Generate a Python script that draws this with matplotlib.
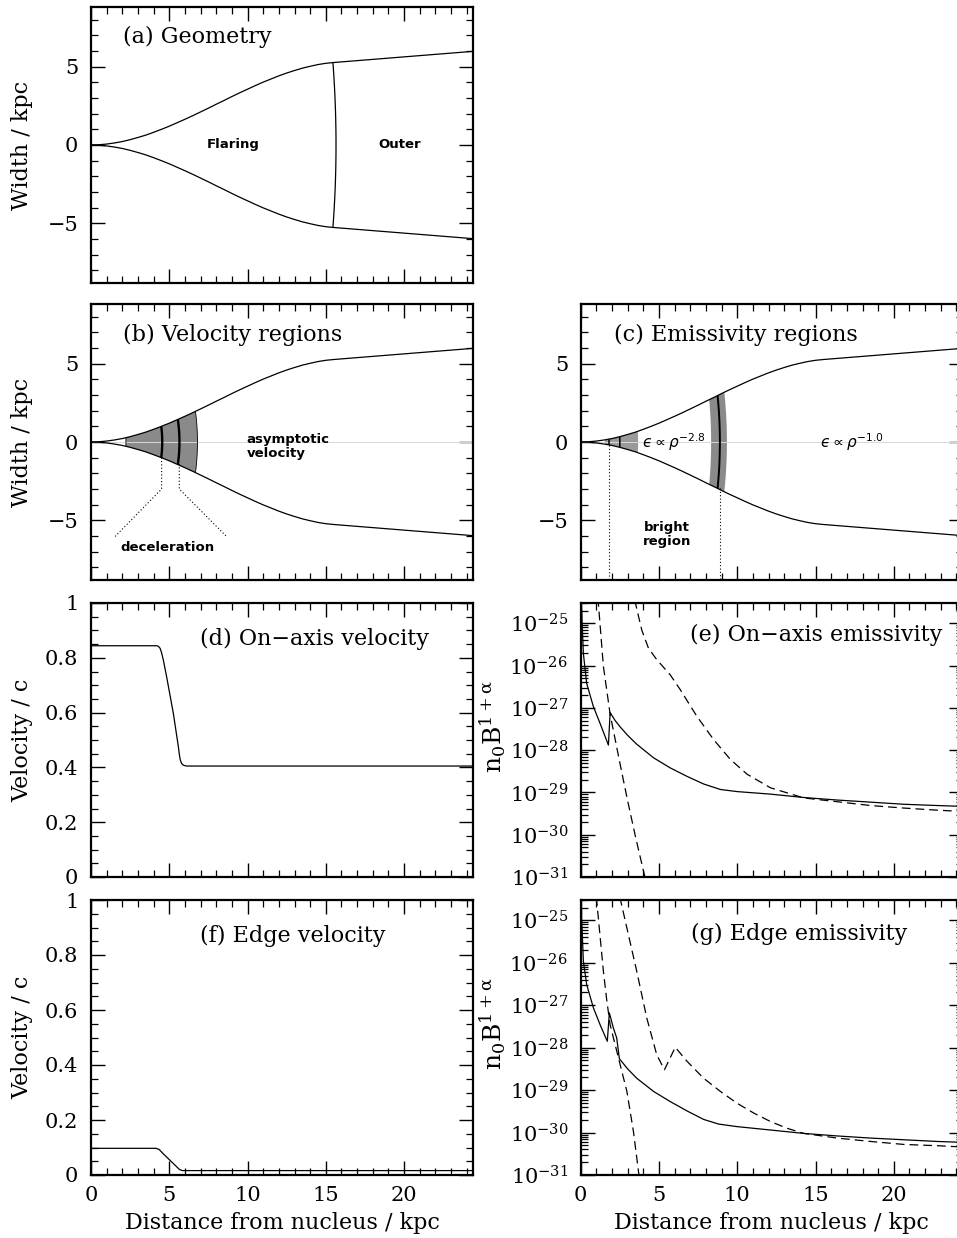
import numpy as np
import matplotlib.pyplot as plt
from matplotlib.patches import Polygon
from matplotlib.ticker import MultipleLocator, LogLocator, FuncFormatter, NullFormatter

# jet boundary: distance from nucleus and half-width (kpc)
bound_x = [0, 0.5, 1.0, 1.5, 2.0, 2.5, 3.0, 3.5, 4.0, 4.5, 5.0, 5.5, 6.0, 6.5, 7.0, 7.5, 8.0,
           8.5, 9.0, 9.5, 10.0, 10.5, 11.0, 11.5, 12.0, 12.5, 13.0, 13.5, 14.0, 14.5, 15.0,
           15.5, 24.5]
bound_w = [0, 0.015, 0.06, 0.13, 0.22, 0.34, 0.48, 0.63, 0.81, 1.0, 1.2, 1.42, 1.64, 1.87,
           2.11, 2.35, 2.6, 2.84, 3.09, 3.33, 3.56, 3.79, 4.01, 4.21, 4.41, 4.59, 4.75, 4.9,
           5.02, 5.13, 5.21, 5.26, 5.98]

# region boundaries: axis crossing (kpc) and radius of curvature (kpc)
geom_arc = (15.65, 70.0)
vel_shade = [(2.23, 10.0), (6.8, 15.0)]
vel_arcs = [(4.55, 8.0), (5.65, 10.0)]
emis_shade = [(1.55, 8.0), (3.67, 10.0)]
emis_arcs = [(1.81, 8.0), (2.5, 8.0)]
emis_band = [(8.33, 30.0), (9.34, 30.0)]
emis_band_arc = (8.89, 30.0)

# pointer lines for the deceleration and bright-region labels
decel_x1, decel_y1 = [4.51, 4.51, 1.53], [-1.0, -3.0, -6.03]
decel_x2, decel_y2 = [5.64, 5.64, 8.66], [-1.4, -3.0, -6.03]
bright_x = [1.81, 8.89]
bright_top = [-0.2, -2.96]

# velocities (units of c)
vax_x = [0, 4.19, 4.3, 4.41, 4.5, 4.62, 4.83, 5.26, 5.58, 5.64, 5.7, 5.78, 5.9, 6.1, 24.4]
vax_v = [0.844, 0.844, 0.842, 0.835, 0.82, 0.792, 0.731, 0.597, 0.476, 0.448, 0.428, 0.415,
         0.408, 0.405, 0.405]
vedge_x = [0, 4.15, 4.35, 4.6, 5.2, 5.65, 5.85, 24.4]
vedge_v = [0.097, 0.097, 0.093, 0.078, 0.045, 0.02, 0.016, 0.016]

# emissivities, log10(n0 B^(1+alpha))
eax_x = [0.02, 0.06, 0.17, 0.38, 0.81, 1.24, 1.77, 1.88, 2.2, 2.52, 3.0, 3.58, 4.65, 5.72,
         6.79, 7.85, 8.92, 9.99, 12.12, 14.25, 16.39, 18.52, 20.65, 22.79, 24.4]
eax_l = [-24.3, -24.69, -25.71, -26.42, -26.97, -27.37, -27.88, -27.11, -27.3, -27.45, -27.65,
         -27.86, -28.18, -28.42, -28.62, -28.8, -28.93, -28.98, -29.04, -29.12, -29.18, -29.23,
         -29.28, -29.31, -29.33]
eax_d1_x = [1.10, 1.45, 1.88, 2.5, 3.0, 3.5, 4.1]
eax_d1_l = [-24.4, -26.02, -27.15, -28.3, -29.2, -30.05, -31.0]
eax_d2_x = [3.45, 3.9, 4.33, 4.86, 5.72, 6.36, 7.42, 8.49, 9.56, 10.63, 12.12, 14.25, 16.39,
            18.52, 20.65, 22.79, 24.4]
eax_d2_l = [-24.45, -25.16, -25.59, -25.86, -26.22, -26.57, -27.2, -27.75, -28.22, -28.57,
            -28.89, -29.13, -29.22, -29.31, -29.37, -29.42, -29.45]

eedge_x = [0.02, 0.06, 0.17, 0.38, 0.81, 1.24, 1.70, 1.83, 2.09, 2.30, 2.47, 3.0, 3.58, 4.65,
           5.72, 6.79, 7.85, 8.81, 9.99, 12.12, 14.25, 16.39, 18.52, 20.65, 22.79, 24.4]
eedge_l = [-24.4, -24.94, -25.96, -26.51, -27.06, -27.46, -27.85, -27.18, -27.54, -27.77, -28.26,
           -28.5, -28.72, -29.03, -29.27, -29.49, -29.69, -29.8, -29.86, -29.94, -30.02, -30.08,
           -30.13, -30.17, -30.21, -30.23]
eedge_d1_x = [1.0, 1.45, 1.67, 1.88, 2.2, 2.52, 2.95, 3.37, 3.72]
eedge_d1_l = [-24.45, -26.2, -26.9, -27.46, -27.93, -28.4, -29.03, -29.98, -31.0]
eedge_d2_x = [2.5, 3.58, 4.22, 4.86, 5.35, 6.04, 6.79, 7.85, 8.92, 9.99, 11.05, 12.12, 13.19,
              14.25, 16.39, 18.52, 20.65, 22.79, 24.4]
eedge_d2_l = [-24.45, -26.2, -27.3, -28.17, -28.52, -27.99, -28.32, -28.72, -29.03, -29.31,
              -29.54, -29.74, -29.9, -30.02, -30.13, -30.21, -30.28, -30.31, -30.34]

XMAX = 24.4
WMAX = 8.8
XLABEL = 'Distance from nucleus / kpc'
LW = 0.9
DASH = (0, (7, 4))

plt.rcParams.update({
    'font.family': 'DejaVu Serif',
    'mathtext.fontset': 'dejavuserif',
    'font.size': 15,
    'axes.labelsize': 16,
    'axes.linewidth': 1.6,
    'xtick.direction': 'in', 'ytick.direction': 'in',
    'xtick.top': True, 'ytick.right': True,
    'xtick.major.size': 10, 'ytick.major.size': 10,
    'xtick.minor.size': 5, 'ytick.minor.size': 5,
    'xtick.major.width': 1.0, 'ytick.major.width': 1.0,
    'xtick.minor.width': 0.9, 'ytick.minor.width': 0.9,
    'xtick.major.pad': 8, 'ytick.major.pad': 9,
})

fig = plt.figure(figsize=(9.57, 12.38), dpi=100)
W, H = 957.0, 1238.0
left_x, right_x, pw = 91 / W, 580.7 / W, 382 / W
rows = [(7, 283), (304, 580), (603, 877), (900, 1175)]
inner = dict(family='DejaVu Sans', fontsize=9.5, weight='semibold')


def make_ax(col, row):
    top, bot = rows[row]
    return fig.add_axes([col, 1 - bot / H, pw, (bot - top) / H])


def arc_xy(xa, r, h):
    y = np.linspace(-h, h, 80)
    return xa - r + np.sqrt(r ** 2 - y ** 2), y


def jet_patch(ax, **kw):
    bx, bw = np.array(bound_x), np.array(bound_w)
    pts = np.column_stack([np.r_[bx, bx[::-1]], np.r_[bw, -bw[::-1]]])
    return Polygon(pts, closed=True, transform=ax.transData, **kw)


def shade(ax, a1, a2, color):
    x1, y1 = arc_xy(*a1, min(7.0, a1[1] * 0.95))
    x2, y2 = arc_xy(*a2, min(7.0, a2[1] * 0.95))
    region = Polygon(np.column_stack([np.r_[x1, x2[::-1]], np.r_[y1, y2[::-1]]]),
                     closed=True, transform=ax.transData)
    p = jet_patch(ax, facecolor=color, edgecolor='none', zorder=1)
    ax.add_patch(p)
    p.set_clip_path(region)


def arc_line(ax, a, lw):
    x, y = arc_xy(*a, min(7.0, a[1] * 0.95))
    ln, = ax.plot(x, y, color='k', lw=lw, zorder=3)
    ln.set_clip_path(jet_patch(ax))


def geometry(ax):
    ax.plot(bound_x, bound_w, color='k', lw=LW, zorder=3)
    ax.plot(bound_x, -np.array(bound_w), color='k', lw=LW, zorder=3)
    ax.set_xlim(0, XMAX)
    ax.set_ylim(-WMAX, WMAX)
    ax.xaxis.set_major_locator(MultipleLocator(5))
    ax.xaxis.set_minor_locator(MultipleLocator(1))
    ax.yaxis.set_major_locator(MultipleLocator(5))
    ax.yaxis.set_minor_locator(MultipleLocator(1))
    ax.tick_params(labelbottom=False)


def axis_glint(ax):
    ax.plot([0, XMAX], [0, 0], color='#d8d8d8', lw=0.7, zorder=2)


def velocity(ax, x, v):
    ax.plot(x, v, color='k', lw=LW)
    ax.set_xlim(0, XMAX)
    ax.set_ylim(0, 1)
    ax.xaxis.set_major_locator(MultipleLocator(5))
    ax.xaxis.set_minor_locator(MultipleLocator(1))
    ax.yaxis.set_major_locator(MultipleLocator(0.2))
    ax.yaxis.set_minor_locator(MultipleLocator(0.05))
    ax.yaxis.set_major_formatter(FuncFormatter(lambda v, p: '%g' % v))
    ax.set_ylabel('Velocity / c')
    ax.yaxis.set_label_coords(-0.152, 0.5)


def emissivity(ax, sx, sl, d1x, d1l, d2x, d2l):
    ax.set_yscale('log')
    ax.plot(sx, 10.0 ** np.array(sl), color='k', lw=LW)
    ax.plot(d1x, 10.0 ** np.array(d1l), color='k', lw=LW, ls=DASH)
    ax.plot(d2x, 10.0 ** np.array(d2l), color='k', lw=LW, ls=DASH)
    ax.set_xlim(0, XMAX)
    ax.set_ylim(1e-31, 10 ** -24.52)
    ax.xaxis.set_major_locator(MultipleLocator(5))
    ax.xaxis.set_minor_locator(MultipleLocator(1))
    ax.yaxis.set_major_locator(LogLocator(base=10, numticks=20))
    ax.yaxis.set_minor_locator(LogLocator(base=10, subs=np.arange(2, 10), numticks=20))
    ax.yaxis.set_minor_formatter(NullFormatter())
    ax.set_ylabel(r'$\mathregular{n_0B^{1+\alpha}}$', fontsize=18)
    ax.yaxis.set_label_coords(-0.19, 0.55)


# (a) geometry
ax_a = make_ax(left_x, 0)
geometry(ax_a)
arc_line(ax_a, geom_arc, LW)
ax_a.text(9.1, 0, 'Flaring', ha='center', va='center', **inner)
ax_a.text(19.7, 0, 'Outer', ha='center', va='center', **inner)
ax_a.text(0.083, 0.89, '(a) Geometry', transform=ax_a.transAxes, va='center', fontsize=16)
ax_a.set_ylabel('Width / kpc')
ax_a.yaxis.set_label_coords(-0.152, 0.5)

# (b) velocity regions
ax_b = make_ax(left_x, 1)
geometry(ax_b)
shade(ax_b, vel_shade[0], vel_shade[1], '#8a8a8a')
axis_glint(ax_b)
for a in vel_arcs:
    arc_line(ax_b, a, 1.7)
for a in vel_shade:
    arc_line(ax_b, a, 0.6)
ax_b.plot(decel_x1, decel_y1, color='k', lw=0.8, ls=(0, (1, 2)))
ax_b.plot(decel_x2, decel_y2, color='k', lw=0.8, ls=(0, (1, 2)))
ax_b.text(9.95, -0.27, 'asymptotic\nvelocity', ha='left', va='center', linespacing=1.1, **inner)
ax_b.text(4.9, -6.75, 'deceleration', ha='center', va='center', **inner)
ax_b.text(0.083, 0.888, '(b) Velocity regions', transform=ax_b.transAxes, va='center',
          fontsize=16)
ax_b.set_ylabel('Width / kpc')
ax_b.yaxis.set_label_coords(-0.152, 0.5)

# (c) emissivity regions
ax_c = make_ax(right_x, 1)
geometry(ax_c)
shade(ax_c, emis_shade[0], emis_shade[1], '#9a9a9a')
shade(ax_c, emis_band[0], emis_band[1], '#8a8a8a')
axis_glint(ax_c)
for a in emis_arcs:
    arc_line(ax_c, a, 1.1)
arc_line(ax_c, emis_band_arc, 1.4)
for bx, bt in zip(bright_x, bright_top):
    ax_c.plot([bx, bx], [bt, -WMAX], color='k', lw=0.8, ls=(0, (1, 2)))
ax_c.text(3.9, 0, '$\u03f5\\propto\\rho^{-2.8}$', ha='left', va='center', fontsize=11,
          math_fontfamily='dejavusans')
ax_c.text(15.3, 0, '$\u03f5\\propto\\rho^{-1.0}$', ha='left', va='center', fontsize=11,
          math_fontfamily='dejavusans')
ax_c.text(5.5, -5.9, 'bright\nregion', ha='center', va='center', linespacing=1.1, **inner)
ax_c.text(0.086, 0.888, '(c) Emissivity regions', transform=ax_c.transAxes, va='center',
          fontsize=16)

# (d) on-axis velocity
ax_d = make_ax(left_x, 2)
velocity(ax_d, vax_x, vax_v)
ax_d.tick_params(labelbottom=False)
ax_d.text(0.285, 0.87, '(d) On\u2212axis velocity', transform=ax_d.transAxes, va='center',
          fontsize=16)

# (e) on-axis emissivity
ax_e = make_ax(right_x, 2)
emissivity(ax_e, eax_x, eax_l, eax_d1_x, eax_d1_l, eax_d2_x, eax_d2_l)
ax_e.tick_params(labelbottom=False)
ax_e.text(0.286, 0.883, '(e) On\u2212axis emissivity', transform=ax_e.transAxes, va='center',
          fontsize=16)

# (f) edge velocity
ax_f = make_ax(left_x, 3)
velocity(ax_f, vedge_x, vedge_v)
ax_f.set_xlabel(XLABEL)
ax_f.xaxis.set_label_coords(0.5, -0.135)
ax_f.text(0.285, 0.87, '(f) Edge velocity', transform=ax_f.transAxes, va='center', fontsize=16)

# (g) edge emissivity
ax_g = make_ax(right_x, 3)
emissivity(ax_g, eedge_x, eedge_l, eedge_d1_x, eedge_d1_l, eedge_d2_x, eedge_d2_l)
ax_g.set_xlabel(XLABEL)
ax_g.xaxis.set_label_coords(0.5, -0.135)
ax_g.text(0.288, 0.878, '(g) Edge emissivity', transform=ax_g.transAxes, va='center',
          fontsize=16)

fig.savefig('out.png', dpi=100)
